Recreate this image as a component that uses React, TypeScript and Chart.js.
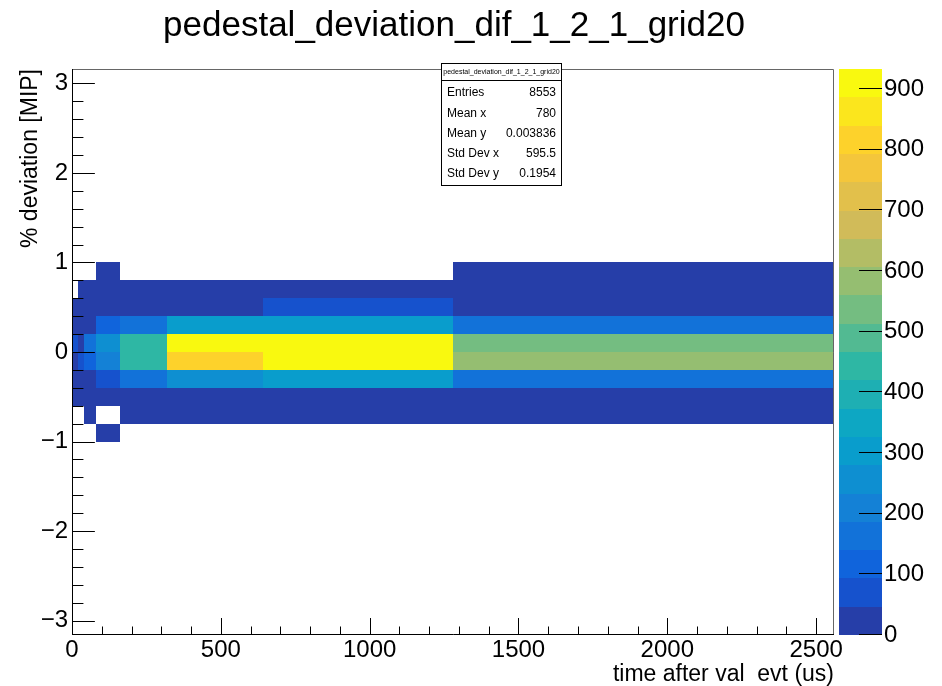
import React, { useEffect, useRef } from 'react';
import { Chart, registerables } from 'chart.js';

Chart.register(...registerables);

const FONT = "'Liberation Sans', Arimo, Helvetica, Arial, sans-serif";

const titleText = 'pedestal_deviation_dif_1_2_1_grid20';
const xAxisTitle = 'time after val  evt (us)';
const yAxisTitle = '% deviation [MIP]';

// variable-width x bins (us)
const xEdges = [0, 20, 40, 80, 160, 320, 640, 1280, 2560];
// y bins (MIP)
const yEdges = [-1.0, -0.8, -0.6, -0.4, -0.2, 0.0, 0.2, 0.4, 0.6, 0.8, 1.0];

// bin contents, one row per y bin (bottom to top), one column per x bin
const rowM10 = [0, 0, 0, 2, 0, 0, 0, 0];
const rowM08 = [0, 0, 3, 0, 10, 12, 15, 20];
const rowM06 = [5, 4, 10, 15, 25, 30, 40, 40];
const rowM04 = [14, 11, 30, 80, 150, 245, 290, 145];
const rowM02 = [35, 55, 110, 195, 425, 800, 920, 565];
const rowP00 = [60, 25, 145, 245, 425, 895, 933, 520];
const rowP02 = [14, 9, 28, 105, 150, 290, 290, 150];
const rowP04 = [5, 4, 10, 20, 30, 40, 70, 40];
const rowP06 = [0, 2, 4, 8, 10, 12, 20, 35];
const rowP08 = [0, 0, 0, 3, 0, 0, 0, 18];
const counts = [rowM10, rowM08, rowM06, rowM04, rowM02, rowP00, rowP02, rowP04, rowP06, rowP08];

const xRange = [0, 2560];
const yRange = [-3.162, 3.162];
const zMax = 933;
const nContours = 20;

const xTickValues = [0, 500, 1000, 1500, 2000, 2500];
const yTickValues = [-3, -2, -1, 0, 1, 2, 3];
const zTickValues = [0, 100, 200, 300, 400, 500, 600, 700, 800, 900];
const xMinorStep = 100;
const yMinorStep = 0.2;

const statsLabels = ['Entries', 'Mean x', 'Mean y', 'Std Dev x', 'Std Dev y'];
const statsValues = ['8553', '780', '0.003836', '595.5', '0.1954'];

// ROOT kBird palette
const birdStops = [0.0, 0.125, 0.25, 0.375, 0.5, 0.625, 0.75, 0.875, 1.0];
const birdRed = [0.2082, 0.0592, 0.078, 0.0232, 0.1802, 0.5301, 0.8186, 0.9956, 0.9764];
const birdGreen = [0.1664, 0.3599, 0.5041, 0.6419, 0.7178, 0.7492, 0.7328, 0.7862, 0.9832];
const birdBlue = [0.5293, 0.8684, 0.8385, 0.7914, 0.6425, 0.4662, 0.3499, 0.1968, 0.0539];

function buildPalette(n: number): string[] {
  const cols: string[] = [];
  for (let g = 1; g < birdStops.length; g++) {
    const nc = Math.floor(n * birdStops[g]) - Math.floor(n * birdStops[g - 1]);
    for (let c = 0; c < nc; c++) {
      const r = birdRed[g - 1] + (c * (birdRed[g] - birdRed[g - 1])) / nc;
      const gg = birdGreen[g - 1] + (c * (birdGreen[g] - birdGreen[g - 1])) / nc;
      const b = birdBlue[g - 1] + (c * (birdBlue[g] - birdBlue[g - 1])) / nc;
      cols.push(`rgb(${Math.round(r * 255)},${Math.round(gg * 255)},${Math.round(b * 255)})`);
    }
  }
  return cols;
}
const palette = buildPalette(255);

function levelColor(i: number): string {
  const idx = Math.min(palette.length - 1, Math.floor(((i + 0.99) * palette.length) / nContours));
  return palette[idx];
}
function valueLevel(v: number): number {
  return Math.min(nContours - 1, Math.floor(0.01 + (v * nContours) / zMax));
}
function fmtNum(v: number): string {
  return v < 0 ? '\u2212' + Math.abs(v) : String(v);
}

const rootPlugin = {
  id: 'rootPainter',
  afterDraw(chart: any) {
    const ctx = chart.ctx as CanvasRenderingContext2D;
    const xs = chart.scales.x;
    const ys = chart.scales.y;
    const zs = chart.scales.z;
    const area = chart.chartArea;
    ctx.save();

    // heat-map cells
    for (let r = 0; r < counts.length; r++) {
      for (let c = 0; c < counts[r].length; c++) {
        const v = counts[r][c];
        if (v <= 0) continue;
        const x0 = Math.round(xs.getPixelForValue(xEdges[c]));
        const x1 = Math.round(xs.getPixelForValue(xEdges[c + 1]));
        const y0 = Math.round(ys.getPixelForValue(yEdges[r]));
        const y1 = Math.round(ys.getPixelForValue(yEdges[r + 1]));
        ctx.fillStyle = levelColor(valueLevel(v));
        ctx.fillRect(x0, y1, x1 - x0, y0 - y1);
      }
    }

    // frame: axes black, top/right lighter
    ctx.lineWidth = 1;
    ctx.strokeStyle = '#666';
    ctx.beginPath();
    ctx.moveTo(area.left, area.top + 0.5);
    ctx.lineTo(area.right - 0.5, area.top + 0.5);
    ctx.lineTo(area.right - 0.5, area.bottom);
    ctx.stroke();
    ctx.strokeStyle = '#000';
    ctx.beginPath();
    ctx.moveTo(area.left + 0.5, area.top);
    ctx.lineTo(area.left + 0.5, area.bottom - 0.5);
    ctx.lineTo(area.right, area.bottom - 0.5);
    ctx.stroke();

    // ticks
    const plotH = area.bottom - area.top;
    const plotW = area.right - area.left;
    const xMajorLen = 0.03 * plotH;
    const yMajorLen = 0.03 * plotW;
    ctx.beginPath();
    for (let v = xRange[0]; v <= xRange[1] + 1e-6; v += xMinorStep) {
      const isMajor = xTickValues.some((t) => Math.abs(t - v) < 1e-6);
      const px = Math.round(xs.getPixelForValue(v)) + 0.5;
      const len = isMajor ? xMajorLen : xMajorLen / 2;
      ctx.moveTo(px, area.bottom);
      ctx.lineTo(px, area.bottom - len);
    }
    const yStart = Math.ceil(yRange[0] / yMinorStep) * yMinorStep;
    for (let k = 0; ; k++) {
      const v = Math.round((yStart + k * yMinorStep) * 1000) / 1000;
      if (v > yRange[1]) break;
      const isMajor = yTickValues.some((t) => Math.abs(t - v) < 1e-6);
      const py = Math.round(ys.getPixelForValue(v)) + 0.5;
      const len = isMajor ? yMajorLen : yMajorLen / 2;
      ctx.moveTo(area.left, py);
      ctx.lineTo(area.left + len, py);
    }
    ctx.stroke();

    // colour bar
    const cbLeft = 839;
    const cbRight = 882;
    for (let i = 0; i < nContours; i++) {
      const yb = Math.round(zs.getPixelForValue((i * zMax) / nContours));
      const yt = Math.round(zs.getPixelForValue(((i + 1) * zMax) / nContours));
      ctx.fillStyle = levelColor(i);
      ctx.fillRect(cbLeft, yt, cbRight - cbLeft, yb - yt);
    }
    ctx.beginPath();
    ctx.strokeStyle = '#000';
    for (const t of zTickValues) {
      const py = Math.round(zs.getPixelForValue(t)) - 0.5;
      ctx.moveTo(cbRight, py);
      ctx.lineTo(cbRight - 23, py);
    }
    ctx.stroke();
    ctx.font = `24px ${FONT}`;
    ctx.fillStyle = '#000';
    ctx.textAlign = 'left';
    ctx.textBaseline = 'middle';
    for (const t of zTickValues) {
      const py = zs.getPixelForValue(t);
      ctx.fillText(String(t), cbRight + 2, py);
    }

    // stats box
    const bx0 = 441.5;
    const bx1 = 561.5;
    const by0 = 63.5;
    const by1 = 185.5;
    ctx.fillStyle = '#fff';
    ctx.fillRect(bx0, by0, bx1 - bx0, by1 - by0);
    ctx.strokeStyle = '#000';
    ctx.strokeRect(bx0, by0, bx1 - bx0, by1 - by0);
    ctx.beginPath();
    ctx.moveTo(bx0, 80.5);
    ctx.lineTo(bx1, 80.5);
    ctx.stroke();
    ctx.fillStyle = '#000';
    ctx.font = `7px ${FONT}`;
    ctx.textAlign = 'center';
    ctx.textBaseline = 'middle';
    ctx.fillText(titleText, (bx0 + bx1) / 2, 72.5);
    ctx.font = `12px ${FONT}`;
    for (let i = 0; i < statsLabels.length; i++) {
      const cy = 93 + i * 20.25;
      ctx.textAlign = 'left';
      ctx.fillText(statsLabels[i], 447, cy);
      ctx.textAlign = 'right';
      ctx.fillText(statsValues[i], 556, cy);
    }

    // title
    ctx.font = `35px ${FONT}`;
    ctx.textAlign = 'center';
    ctx.textBaseline = 'alphabetic';
    ctx.fillText(titleText, 454, 36);

    ctx.restore();
  },
};

export default function App() {
  const canvasRef = useRef<HTMLCanvasElement | null>(null);

  useEffect(() => {
    const canvas = canvasRef.current;
    if (!canvas) return;
    const chart = new Chart(canvas, {
      type: 'scatter',
      data: { datasets: [] },
      options: {
        responsive: false,
        animation: false,
        events: [],
        devicePixelRatio: 1,
        layout: { padding: { left: 0, right: 108, top: 69, bottom: 0 } },
        plugins: {
          legend: { display: false },
          tooltip: { enabled: false },
          title: { display: false },
        },
        scales: {
          x: {
            type: 'linear',
            position: 'bottom',
            min: xRange[0],
            max: xRange[1],
            grid: { display: false, drawTicks: false },
            border: { display: false },
            ticks: {
              font: { family: FONT, size: 24 },
              color: '#000',
              padding: 1,
              maxRotation: 0,
              autoSkip: false,
              callback: (v: any) => fmtNum(Number(v)),
            },
            afterBuildTicks: (s: any) => {
              s.ticks = xTickValues.map((v) => ({ value: v }));
            },
            afterFit: (s: any) => {
              s.height = 51;
            },
            title: {
              display: true,
              text: xAxisTitle,
              align: 'end',
              color: '#000',
              font: { family: FONT, size: 23, lineHeight: 1.0 },
              padding: { top: 0, bottom: 0 },
            },
          },
          y: {
            type: 'linear',
            position: 'left',
            min: yRange[0],
            max: yRange[1],
            grid: { display: false, drawTicks: false },
            border: { display: false },
            ticks: {
              font: { family: FONT, size: 24 },
              color: '#000',
              padding: 4,
              autoSkip: false,
              callback: (v: any) => fmtNum(Number(v)),
            },
            afterBuildTicks: (s: any) => {
              s.ticks = yTickValues.map((v) => ({ value: v }));
            },
            afterFit: (s: any) => {
              s.width = 72;
            },
            title: {
              display: true,
              text: yAxisTitle,
              align: 'end',
              color: '#000',
              font: { family: FONT, size: 23 },
              padding: { top: 17, bottom: 0 },
            },
          },
          z: {
            type: 'linear',
            axis: 'y',
            position: 'right',
            display: false,
            min: 0,
            max: zMax,
          },
        },
      } as any,
      plugins: [rootPlugin],
    });
    return () => chart.destroy();
  }, []);

  return (
    <div style={{ position: 'absolute', left: 0, top: 0, width: 942, height: 686, background: '#fff' }}>
      <canvas ref={canvasRef} width={942} height={686} style={{ width: 942, height: 686, display: 'block' }} />
    </div>
  );
}
